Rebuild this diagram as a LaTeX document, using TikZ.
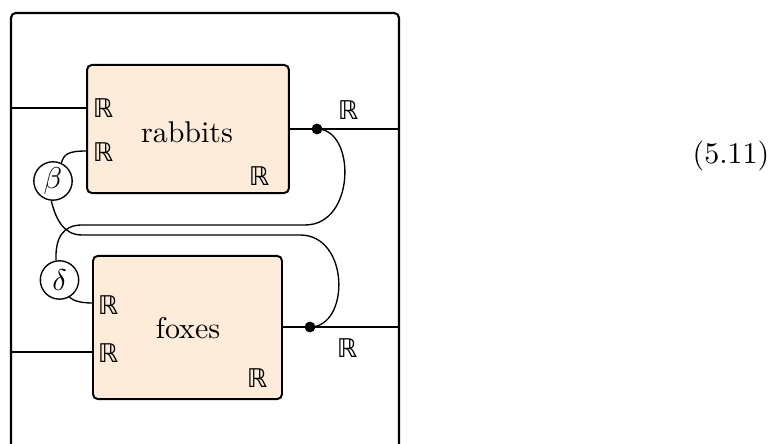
\documentclass[tikz,border=0pt]{standalone}
\usepackage{fontspec}
\newfontfamily\realsfont{DejaVu Sans}
\definecolor{boxfill}{RGB}{253,236,218}
\begin{document}
\begin{tikzpicture}[x=0.33333pt,y=-0.33333pt,
  procbox/.style={draw,line width=0.65pt,rounded corners=1.6pt,fill=boxfill,inner sep=0pt},
  wire/.style={line width=0.45pt},
  frame/.style={line width=0.7pt,rounded corners=1.6pt},
  param/.style={draw,circle,line width=0.45pt,minimum size=12.8pt,inner sep=0pt,fill=white},
  dotnode/.style={circle,fill=black,inner sep=0pt,minimum size=3.6pt},
  setlbl/.style={inner sep=0pt,font=\realsfont\fontsize{8.6}{9}\selectfont},
  every node/.append style={text=black}]
\useasboundingbox (0,0) rectangle (780,444);
\begin{scope}
\clip (0,0) rectangle (780,444);
% outer frame
\draw[frame] (11,470) -- (11,13) -- (399,13) -- (399,470);
\end{scope}
% boxes
\node[procbox,minimum width=67.3pt,minimum height=42.7pt] (rab) at (188,129) {};
\node at (187,132) (rabtxt) {rabbits};
\node[procbox,minimum width=63pt,minimum height=47.7pt] (fox) at (187.5,327.5) {};
\node at (188,328) (foxtxt) {foxes};
% ports
\coordinate (rin1) at (87,108);
\coordinate (rin2) at (87,151);
\coordinate (rout) at (289,129);
\coordinate (fin1) at (93,303);
\coordinate (fin2) at (93,352);
\coordinate (fout) at (282,327);
\coordinate (lft1) at (11,108);
\coordinate (lft2) at (11,352);
\coordinate (rgt1) at (399,129);
\coordinate (rgt2) at (399,327);
% parameters
\node[param] (beta) at (53,181) {$\beta$};
\node[param] (delta) at (59.5,280) {$\delta$};
% dots
\node[dotnode] (rdot) at (317,129) {};
\node[dotnode] (fdot) at (310,327) {};
% wires
\draw[wire] (lft1) -- (rin1);
\draw[wire] (lft2) -- (fin2);
\draw[wire] (rout) -- (rdot.center) -- (rgt1);
\draw[wire] (fout) -- (fdot.center) -- (rgt2);
\draw[wire] (beta.65) .. controls (64,154) and (68,151) .. (rin2);
\draw[wire] (delta.300) .. controls (73,300) and (78,303) .. (fin1);
\coordinate (ua) at (305,225);
\coordinate (ub) at (82,225);
\coordinate (la) at (300,235);
\coordinate (lb) at (82,235);
\draw[wire] (rdot.center) .. controls (356,129) and (356,225) .. (ua) -- (ub) .. controls (63,225) and (55,238) .. (delta.100);
\draw[wire] (fdot.center) .. controls (350,327) and (350,235) .. (la) -- (lb) .. controls (64,235) and (56,220) .. (beta.265);
% set labels
\node[setlbl] (l1) at (103,108) {ℝ};
\node[setlbl] (l2) at (103,152) {ℝ};
\node[setlbl] (l3) at (259,176) {ℝ};
\node[setlbl] (l4) at (348,110) {ℝ};
\node[setlbl] (l5) at (108,305) {ℝ};
\node[setlbl] (l6) at (108,353) {ℝ};
\node[setlbl] (l7) at (257,378) {ℝ};
\node[setlbl] (l8) at (347,348) {ℝ};
% equation number
\node (eqno) at (731,156) {(5.11)};
\end{tikzpicture}
\end{document}
